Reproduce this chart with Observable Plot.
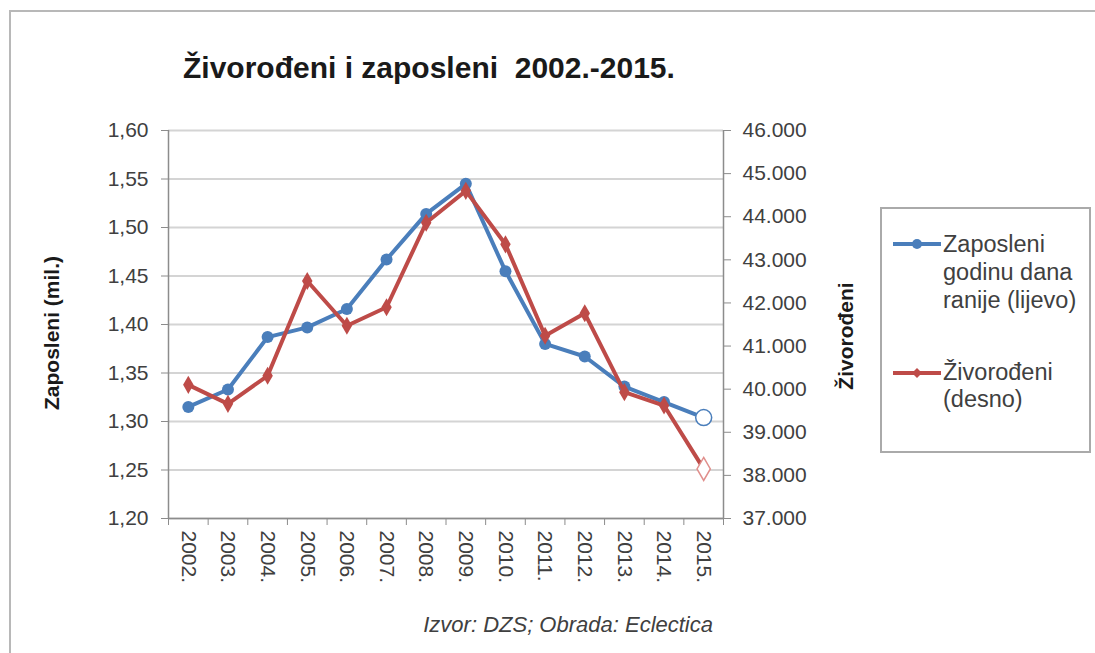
<!DOCTYPE html>
<html>
<head>
<meta charset="utf-8">
<script src="https://cdn.jsdelivr.net/npm/d3@7"></script>
<script src="https://cdn.jsdelivr.net/npm/@observablehq/plot@0.6"></script>
<style>
  html, body { margin: 0; padding: 0; background: #fff; overflow: hidden; }
  #wrap { position: relative; width: 1095px; height: 653px; overflow: hidden; font-family: "Liberation Sans", Arial, sans-serif; color: #404040; }
  #frame { position: absolute; left: 9px; top: 10px; width: 1200px; height: 800px; border: 2px solid #b8b8b8; box-sizing: border-box; }
  #chart { position: absolute; left: 0; top: 0; }
  .abs { position: absolute; white-space: nowrap; }
  #title { left: 183px; top: 51px; font-size: 30px; font-weight: bold; color: #1a1a1a; }
  .ytitle { font-size: 21px; font-weight: bold; color: #1a1a1a; transform: translate(-50%, -50%) rotate(-90deg); }
  #caption { left: 0; width: 713px; text-align: right; top: 612px; font-size: 22px; font-style: italic; color: #404040; }
  #legend { left: 880px; top: 207px; width: 211px; height: 246px; border: 2px solid #aaa; box-sizing: border-box; background: #fff; }
  .ltext { position: absolute; left: 61px; font-size: 23.5px; line-height: 28px; color: #404040; }
  .lkey { position: absolute; left: 11px; }
</style>
</head>
<body>
<div id="wrap">
  <div id="frame"></div>
  <div id="chart"></div>
  <div id="title" class="abs">Živorođeni i zaposleni&nbsp; 2002.-2015.</div>
  <div class="abs ytitle" style="left:52px; top:333px;">Zaposleni (mil.)</div>
  <div class="abs ytitle" style="left:846px; top:336px;">Živorođeni</div>
  <div id="caption" class="abs">Izvor: DZS; Obrada: Eclectica</div>
  <div id="legend" class="abs"></div>
</div>
<script>
// ---- data ----
const years = ["2002.","2003.","2004.","2005.","2006.","2007.","2008.","2009.","2010.","2011.","2012.","2013.","2014.","2015."];
const zaposleni = [1.315, 1.333, 1.387, 1.397, 1.416, 1.467, 1.514, 1.545, 1.455, 1.380, 1.367, 1.336, 1.320, 1.304];
const zivorodeni = [40100, 39660, 40310, 42510, 41470, 41900, 43860, 44600, 43360, 41240, 41760, 39930, 39620, 38150];
const leftTicks = [1.20, 1.25, 1.30, 1.35, 1.40, 1.45, 1.50, 1.55, 1.60];
const rightTicks = [37000, 38000, 39000, 40000, 41000, 42000, 43000, 44000, 45000, 46000];
const seriesNames = ["Zaposleni godinu dana ranije (lijevo)", "Živorođeni (desno)"];

const BLUE = "#4a7ebb";
const RED = "#be4b48";
const leftDomain = [1.20, 1.60];
const rightDomain = [37000, 46000];
const toLeft = v => leftDomain[0] + (v - rightDomain[0]) / (rightDomain[1] - rightDomain[0]) * (leftDomain[1] - leftDomain[0]);
const fromLeft = v => rightDomain[0] + (v - leftDomain[0]) / (leftDomain[1] - leftDomain[0]) * (rightDomain[1] - rightDomain[0]);
const fmtLeft = d => d.toFixed(2).replace(".", ",");
const fmtRight = d => d3.format(",")(Math.round(d / 1000) * 1000).replace(/,/g, ".");

const data = years.map((y, i) => ({i, year: y, zap: zaposleni[i], ziv: toLeft(zivorodeni[i]), last: i === years.length - 1}));
const boundaries = d3.range(years.length + 1).map(k => k - 0.5);

const plot = Plot.plot({
  width: 860,
  height: 600,
  marginLeft: 168,
  marginRight: 137,
  marginTop: 130,
  marginBottom: 82,
  style: {fontFamily: "Liberation Sans, Arial, sans-serif", fontSize: "21px", color: "#404040", background: "transparent", overflow: "visible"},
  x: {type: "linear", domain: [-0.5, years.length - 0.5], axis: null},
  y: {domain: leftDomain, axis: null},
  marks: [
    Plot.gridY(leftTicks, {stroke: "#d4d4d4", strokeOpacity: 1, strokeWidth: 2}),
    Plot.ruleX([-0.5, years.length - 0.5], {stroke: "#8c8c8c", strokeWidth: 1.5}),
    Plot.ruleY([leftDomain[0]], {stroke: "#8c8c8c", strokeWidth: 1.5}),
    Plot.axisY(leftTicks, {anchor: "left", tickSize: 7, tickPadding: 13, stroke: "#8c8c8c", tickFormat: fmtLeft, label: null}),
    Plot.axisY(rightTicks.map(toLeft), {anchor: "right", tickSize: 7, tickPadding: 12, stroke: "#8c8c8c", tickFormat: d => fmtRight(fromLeft(d)), label: null}),
    Plot.axisX(boundaries, {anchor: "bottom", tickSize: 7, stroke: "#8c8c8c", tickFormat: () => "", label: null}),
    Plot.axisX(d3.range(years.length), {anchor: "bottom", tickSize: 0, tickPadding: 12, tickRotate: 90, tickFormat: i => years[i], label: null}),
    Plot.line(data, {x: "i", y: "zap", stroke: BLUE, strokeWidth: 4}),
    Plot.dot(data.filter(d => !d.last), {x: "i", y: "zap", r: 6, fill: BLUE}),
    Plot.dot(data.filter(d => d.last), {x: "i", y: "zap", r: 8, fill: "#fff", stroke: BLUE, strokeWidth: 1.5}),
    Plot.line(data, {x: "i", y: "ziv", stroke: RED, strokeWidth: 4}),
    Plot.dot(data.filter(d => !d.last), {x: "i", y: "ziv", r: 5.5, symbol: "diamond", fill: RED}),
    Plot.dot(data.filter(d => d.last), {x: "i", y: "ziv", r: 7, symbol: "diamond", fill: "#fff", stroke: "#e08f8c", strokeWidth: 1.5})
  ]
});
document.getElementById("chart").appendChild(plot);

// ---- legend ----
const legend = document.getElementById("legend");
legend.innerHTML = `
  <svg class="lkey" style="top:25px" width="50" height="20"><line x1="0" y1="10" x2="48" y2="10" stroke="${BLUE}" stroke-width="4"/><circle cx="24" cy="10" r="5" fill="${BLUE}"/></svg>
  <div class="ltext" style="top:21px">Zaposleni<br>godinu dana<br>ranije (lijevo)</div>
  <svg class="lkey" style="top:154px" width="50" height="20"><line x1="0" y1="10" x2="48" y2="10" stroke="${RED}" stroke-width="4"/><path d="M24,5 L29,10 L24,15 L19,10 Z" fill="${RED}"/></svg>
  <div class="ltext" style="top:150px; line-height:27px">Živorođeni<br>(desno)</div>
`;
</script>
</body>
</html>
